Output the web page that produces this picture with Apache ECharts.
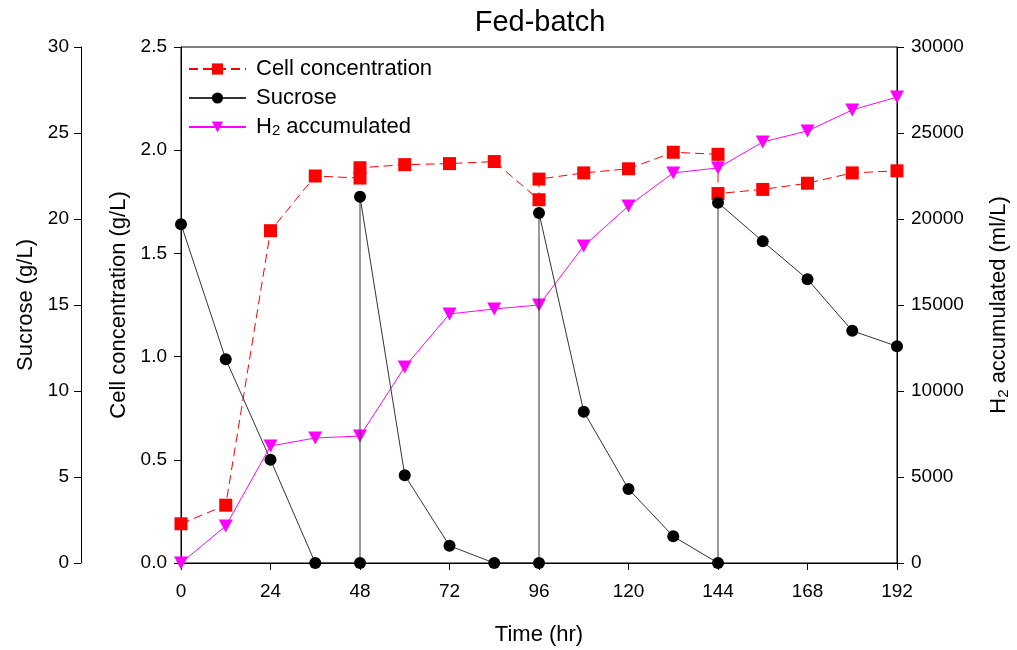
<!DOCTYPE html>
<html>
<head>
<meta charset="utf-8">
<script src="https://cdn.jsdelivr.net/npm/echarts@6/dist/echarts.min.js"></script>
<style>html,body{margin:0;padding:0;background:#fff}#c{width:1017px;height:650px}</style>
</head>
<body>
<div id="c"></div>
<script>
var titleText = 'Fed-batch';
var xTicks = [0, 24, 48, 72, 96, 120, 144, 168, 192];

// Cell concentration (g/L) : [time, value]
var cellTime  = [0, 12, 24, 36, 48, 48, 60, 72, 84, 96, 96, 108, 120, 132, 144, 144, 156, 168, 180, 192];
var cellValue = [0.19, 0.28, 1.61, 1.875, 1.865, 1.915, 1.93, 1.935, 1.945, 1.76, 1.86, 1.89, 1.91, 1.99, 1.98, 1.79, 1.81, 1.84, 1.89, 1.90];

// Sucrose (g/L)
var sucTime  = [0, 12, 24, 36, 48, 48, 60, 72, 84, 96, 96, 108, 120, 132, 144, 144, 156, 168, 180, 192];
var sucValue = [19.7, 11.85, 6.0, 0, 0, 21.3, 5.1, 1.0, 0, 0, 20.35, 8.8, 4.3, 1.55, 0, 20.95, 18.7, 16.5, 13.5, 12.6];

// H2 accumulated (ml/L)
var h2Time  = [0, 12, 24, 36, 48, 60, 72, 84, 96, 108, 120, 132, 144, 156, 168, 180, 192];
var h2Value = [0, 2150, 6800, 7270, 7380, 11400, 14480, 14770, 15000, 18430, 20760, 22680, 22970, 24480, 25120, 26340, 27090];

function zip(a, b) { return a.map(function (v, i) { return [v, b[i]]; }); }

var FONT = '"Liberation Sans", Arial, sans-serif';
var chart = echarts.init(document.getElementById('c'));
var subRich = { sub: { fontSize: 15, fontFamily: FONT, color: '#000', verticalAlign: 'bottom', padding: [10, 0, 0, 0] } };

var baseY = {
  type: 'value',
  axisLine: { show: true, lineStyle: { color: '#000', width: 1 } },
  axisTick: { show: true, length: 7, lineStyle: { color: '#000' } },
  splitLine: { show: false },
  axisLabel: { color: '#000', fontSize: 19, fontFamily: FONT },
  nameLocation: 'middle',
  nameRotate: 90,
  nameTextStyle: { color: '#000', fontSize: 22, fontFamily: FONT, rich: subRich }
};

chart.setOption({
  animation: false,
  backgroundColor: '#fff',
  title: {
    text: titleText, left: 535, top: 3, textAlign: 'center',
    textStyle: { color: '#000', fontSize: 29, fontWeight: 'normal', fontFamily: FONT }
  },
  grid: { left: 181, right: 120, top: 47, bottom: 87, outerBoundsMode: 'none', containLabel: false, show: true, borderColor: '#000', borderWidth: 1, backgroundColor: 'transparent' },
  legend: {
    orient: 'vertical', left: 183, top: 53,
    itemWidth: 57, itemHeight: 14, itemGap: 7,
    textStyle: { color: '#000', fontSize: 22, fontFamily: FONT, lineHeight: 22, padding: [0, 0, 0, 5], rich: subRich },
    formatter: function (n) { return n === 'H2 accumulated' ? 'H{sub|2} accumulated' : n; },
    data: ['Cell concentration', 'Sucrose', 'H2 accumulated']
  },
  xAxis: {
    type: 'value', min: 0, max: 192, interval: 24,
    axisLine: { lineStyle: { color: '#000' } },
    axisTick: { length: 7, lineStyle: { color: '#000' } },
    splitLine: { show: false },
    axisLabel: { color: '#000', fontSize: 19, fontFamily: FONT, margin: 19 },
    name: 'Time (hr)', nameLocation: 'middle', nameGap: 61,
    nameTextStyle: { color: '#000', fontSize: 22, fontFamily: FONT }
  },
  yAxis: [
    Object.assign({}, baseY, {
      position: 'left', offset: 0, min: 0, max: 2.5, interval: 0.5,
      name: 'Cell concentration (g/L)', nameGap: 40,
      axisLabel: Object.assign({}, baseY.axisLabel, { margin: 14, formatter: function (v) { return v.toFixed(1); } })
    }),
    Object.assign({}, baseY, {
      position: 'left', offset: 100, min: 0, max: 30, interval: 5,
      name: 'Sucrose (g/L)', nameGap: 43,
      axisLabel: Object.assign({}, baseY.axisLabel, { margin: 12 })
    }),
    Object.assign({}, baseY, {
      position: 'right', offset: 0, min: 0, max: 30000, interval: 5000,
      name: 'H{sub|2} accumulated (ml/L)', nameGap: 89,
      axisLabel: Object.assign({}, baseY.axisLabel, { margin: 14, formatter: function (v) { return String(v); } })
    })
  ],
  series: [
    {
      name: 'Cell concentration', type: 'line', yAxisIndex: 0, z: 2,
      data: zip(cellTime, cellValue),
      symbol: 'rect', symbolSize: 13,
      itemStyle: { color: '#ff0000' },
      lineStyle: { color: '#ff0000', width: 1, type: [9, 5] }
    },
    {
      name: 'H2 accumulated', type: 'line', yAxisIndex: 2, z: 3,
      data: zip(h2Time, h2Value),
      symbol: 'triangle', symbolRotate: 180, symbolSize: [14, 13],
      itemStyle: { color: '#ff00ff' },
      lineStyle: { color: '#ff00ff', width: 1 }
    },
    {
      name: 'Sucrose', type: 'line', yAxisIndex: 1, z: 4,
      data: zip(sucTime, sucValue),
      symbol: 'circle', symbolSize: 12,
      itemStyle: { color: '#000' },
      lineStyle: { color: '#333', width: 1 }
    }
  ]
});
</script>
</body>
</html>
